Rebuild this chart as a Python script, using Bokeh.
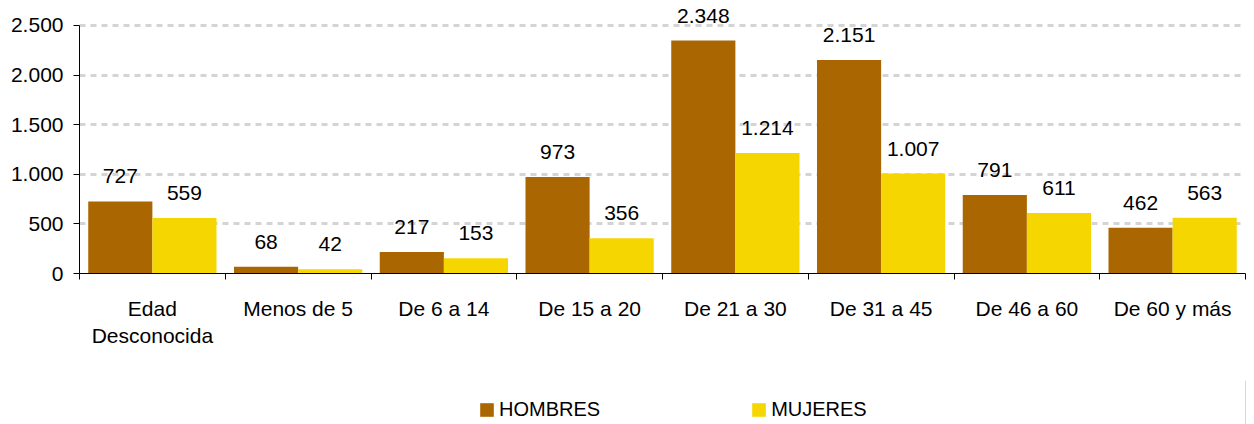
from bokeh.plotting import figure
from bokeh.models import ColumnDataSource, FixedTicker, Range1d, Legend, LegendItem
from bokeh.layouts import column
from bokeh.core.properties import value
from bokeh.embed import file_html
from bokeh.resources import INLINE

categories = ["Edad\nDesconocida", "Menos de 5", "De 6 a 14", "De 15 a 20",
              "De 21 a 30", "De 31 a 45", "De 46 a 60", "De 60 y más"]
hombres = [727, 68, 217, 973, 2348, 2151, 791, 462]
mujeres = [559, 42, 153, 356, 1214, 1007, 611, 563]
y_ticks = [0, 500, 1000, 1500, 2000, 2500]
series_names = ["HOMBRES", "MUJERES"]

C_H = "#AA6600"
C_M = "#F6D600"
FONT = "Liberation Sans"


def es(n):
    return f"{n:,}".replace(",", ".")


n = len(categories)
xh = [i + 0.28 for i in range(n)]
xm = [i + 0.72 for i in range(n)]

p = figure(width=1246, height=380, output_backend="svg", toolbar_location=None,
           x_range=Range1d(0, n), y_range=Range1d(0, 2752),
           min_border_left=79, min_border_right=1, min_border_top=0,
           min_border_bottom=107)
p.outline_line_color = None
p.background_fill_color = "white"
p.border_fill_color = "white"

src_h = ColumnDataSource(dict(x=xh, top=hombres, lbl=[es(v) for v in hombres]))
src_m = ColumnDataSource(dict(x=xm, top=mujeres, lbl=[es(v) for v in mujeres]))

p.vbar(x="x", top="top", width=0.44, source=src_h, fill_color=C_H, line_color=None)
p.vbar(x="x", top="top", width=0.44, source=src_m, fill_color=C_M, line_color=None)

for src in (src_h, src_m):
    p.text(x="x", y="top", text="lbl", source=src, text_align="center",
           text_baseline="alphabetic", y_offset=-25, text_color="#000000",
           text_font=value(FONT), text_font_size="21px")

# axes
xa = p.xaxis[0]
xa.ticker = FixedTicker(ticks=[i + 0.5 for i in range(n)], minor_ticks=list(range(n + 1)))
xa.major_label_overrides = {i + 0.5: c for i, c in enumerate(categories)}
xa.major_tick_line_color = None
xa.minor_tick_line_color = "#000000"
xa.minor_tick_out = 6
xa.minor_tick_in = 0
xa.axis_line_color = "#000000"
xa.major_label_standoff = 17
xa.major_label_text_font = FONT
xa.major_label_text_font_size = "21px"
xa.major_label_text_color = "#000000"

ya = p.yaxis[0]
ya.ticker = FixedTicker(ticks=y_ticks)
ya.major_label_overrides = {t: es(t) for t in y_ticks}
ya.bounds = (0, 2500)
ya.axis_line_color = "#000000"
ya.major_tick_line_color = "#000000"
ya.major_tick_out = 6
ya.major_tick_in = 0
ya.minor_tick_line_color = None
ya.major_label_standoff = 10
ya.major_label_text_font = FONT
ya.major_label_text_font_size = "21px"
ya.major_label_text_color = "#000000"

p.xgrid.grid_line_color = None
p.ygrid.ticker = FixedTicker(ticks=y_ticks[1:])
p.ygrid.grid_line_color = "#D4D4D4"
p.ygrid.grid_line_width = 3
p.ygrid.grid_line_dash = "6 5"

# legend strip
pl = figure(width=1246, height=44, output_backend="svg", toolbar_location=None,
            x_range=Range1d(0, 1), y_range=Range1d(0, 1),
            x_axis_type=None, y_axis_type=None,
            min_border_left=79, min_border_right=1, min_border_top=0, min_border_bottom=0)
pl.outline_line_color = None
pl.xgrid.grid_line_color = None
pl.ygrid.grid_line_color = None
# off-range placeholder renderers that only supply the legend swatches
lh = pl.vbar(x=[5], top=[1], width=0.1, fill_color=C_H, line_color=None)
lm = pl.vbar(x=[5], top=[1], width=0.1, fill_color=C_M, line_color=None)

legend = Legend(items=[LegendItem(label=series_names[0], renderers=[lh]),
                       LegendItem(label=series_names[1], renderers=[lm])],
                orientation="horizontal", location=(399, 3),
                glyph_width=17, glyph_height=17, label_standoff=4, spacing=150,
                padding=0, margin=0, border_line_color=None,
                background_fill_alpha=0, label_text_font=FONT,
                label_text_font_size="20px", label_text_color="#000000",
                label_height=17)
pl.add_layout(legend, "center")

open("out.html", "w").write(file_html(column(p, pl, spacing=0), INLINE))
